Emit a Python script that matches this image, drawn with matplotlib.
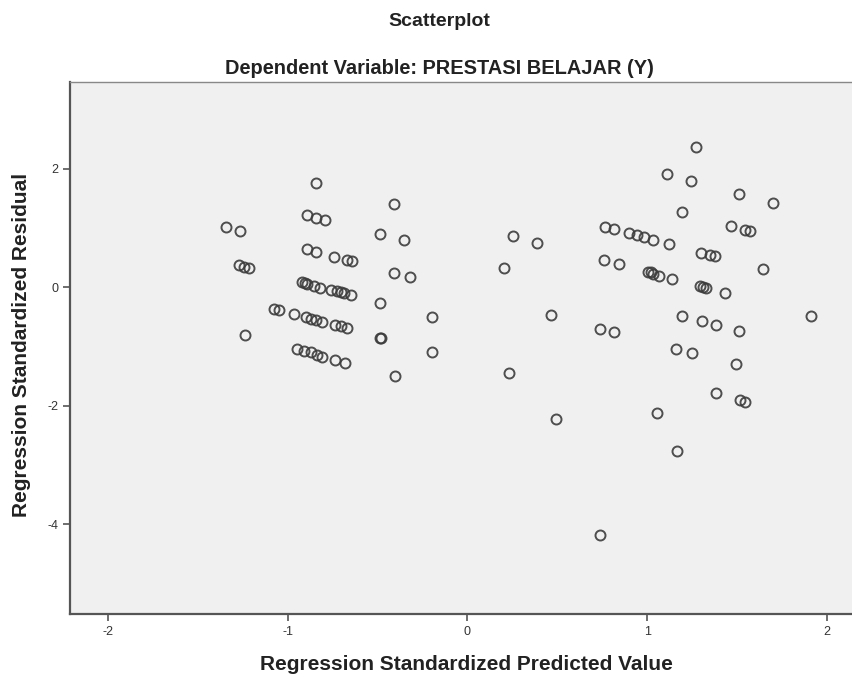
import matplotlib.pyplot as plt

plt.rcParams['font.family'] = ['Liberation Sans', 'DejaVu Sans']

# Regression standardized predicted value / residual pairs
pred = [-1.344, -1.267, -1.27, -1.243, -1.215, -1.235, -1.076, -1.048, -0.965,
        -0.839, -0.89, -0.844, -0.793,
        -0.89, -0.84, -0.743, -0.668, -0.641,
        -0.918, -0.905, -0.89, -0.854, -0.817, -0.761, -0.724, -0.70, -0.687, -0.646,
        -0.90, -0.872, -0.844, -0.811, -0.735, -0.705, -0.668,
        -0.946, -0.909, -0.872, -0.835, -0.807, -0.735, -0.678,
        -0.406, -0.487, -0.355, -0.406, -0.32,
        -0.487, -0.485, -0.48, -0.195, -0.196, -0.405,
        0.252, 0.387, 0.206, 0.467, 0.23, 0.493,
        0.763, 0.817, 0.90, 0.943, 0.985, 1.035,
        0.761, 0.841, 0.739, 0.813, 1.054,
        1.27, 1.109, 1.244, 1.509, 1.702, 1.194,
        1.465, 1.544, 1.572, 1.124, 1.30, 1.35, 1.378, 1.643,
        1.007, 1.02, 1.035, 1.067, 1.137, 1.294, 1.31, 1.328, 1.435, 1.909,
        1.194, 1.306, 1.383, 1.509, 1.16, 1.247, 1.493, 1.383,
        1.517, 1.544, 1.168, 0.74]
resid = [1.02, 0.95, 0.37, 0.34, 0.325, -0.81, -0.37, -0.39, -0.455,
         1.76, 1.225, 1.17, 1.13,
         0.64, 0.60, 0.51, 0.467, 0.44,
         0.08, 0.065, 0.05, 0.02, -0.005, -0.04, -0.07, -0.085, -0.096, -0.135,
         -0.50, -0.53, -0.556, -0.585, -0.64, -0.66, -0.695,
         -1.05, -1.08, -1.10, -1.135, -1.175, -1.23, -1.27,
         1.41, 0.89, 0.79, 0.245, 0.17,
         -0.265, -0.85, -0.86, -0.51, -1.09, -1.49,
         0.86, 0.753, 0.326, -0.472, -1.44, -2.23,
         1.017, 0.978, 0.916, 0.877, 0.849, 0.804,
         0.455, 0.383, -0.697, -0.753, -2.12,
         2.356, 1.906, 1.79, 1.58, 1.42, 1.26,
         1.034, 0.973, 0.95, 0.73, 0.585, 0.55, 0.523, 0.315,
         0.258, 0.25, 0.231, 0.19, 0.14, 0.022, 0.01, -0.012, -0.096, -0.489,
         -0.489, -0.573, -0.63, -0.742, -1.037, -1.104, -1.30, -1.79,
         -1.905, -1.934, -2.76, -4.17]

fig = plt.figure(figsize=(8.53, 6.81), dpi=100)
ax = fig.add_axes([70 / 853, 1 - 614 / 681, 1 - 70 / 853, (614 - 82) / 681])
ax.set_facecolor('#f0f0f0')

ax.plot(pred, resid, 'o', markersize=7.2, markerfacecolor='none',
        markeredgecolor='#3c3c3c', markeredgewidth=1.4, alpha=0.9)

ax.set_xlim(-2.21, 2.145)
ax.set_ylim(-5.51, 3.46)
ax.set_xticks([-2, -1, 0, 1, 2])
ax.set_yticks([2, 0, -2, -4])
ax.set_xticklabels(['-2', '-1', '0', '1', '2'])
ax.set_yticklabels(['2', '0', '-2', '-4'])
ax.tick_params(direction='out', length=5, width=1.2, colors='#555555',
               labelsize=9, labelcolor='#333333')

for side in ['left', 'bottom']:
    ax.spines[side].set_color('#555555')
    ax.spines[side].set_linewidth(1.6)
ax.spines['top'].set_color('#888888')
ax.spines['top'].set_linewidth(1.0)
ax.spines['right'].set_visible(False)

fig.text(439 / 853, 1 - 22 / 681, 'Scatterplot', ha='center', va='center',
         fontsize=14, fontweight='bold', color='#222222')
fig.text(439 / 853, 1 - 68 / 681, 'Dependent Variable: PRESTASI BELAJAR (Y)',
         ha='center', va='center', fontsize=14.4, fontweight='bold', color='#222222')
fig.text(466 / 853, 1 - 664 / 681, 'Regression Standardized Predicted Value',
         ha='center', va='center', fontsize=15, fontweight='bold', color='#222222')
fig.text(22 / 853, 1 - 345 / 681, 'Regression Standardized Residual',
         ha='center', va='center', rotation=90, fontsize=15, fontweight='bold',
         color='#222222')

fig.savefig('out.png', dpi=100)
